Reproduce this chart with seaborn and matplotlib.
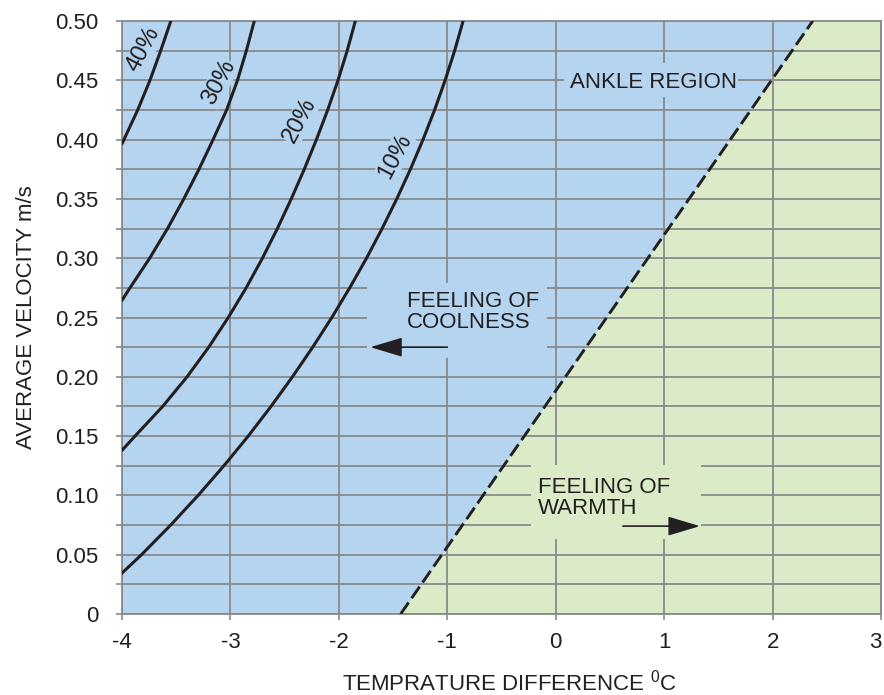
import numpy as np
import pandas as pd
import matplotlib
matplotlib.use("Agg")
import matplotlib.pyplot as plt
import seaborn as sns
from matplotlib.patches import Rectangle
from matplotlib.ticker import MultipleLocator, FixedLocator

sns.set_style("ticks")
plt.rcParams["font.family"] = ["Liberation Sans", "DejaVu Sans"]
plt.rcParams["mathtext.default"] = "regular"
plt.rcParams["axes.unicode_minus"] = False

# ====================== data ======================
# percentage-dissatisfied curves: temperature difference (°C) vs velocity (m/s)
t10 = [-4.0, -3.82, -3.551, -3.298, -3.06, -2.836, -2.626, -2.428, -2.241, -2.065,
       -1.90, -1.745, -1.601, -1.466, -1.34, -1.224, -1.117, -1.02, -0.932, -0.854]
v10 = [0.0345, 0.05, 0.075, 0.10, 0.125, 0.15, 0.175, 0.20, 0.225, 0.25,
       0.275, 0.30, 0.325, 0.35, 0.375, 0.40, 0.425, 0.45, 0.475, 0.50]
t20 = [-4.0, -3.88, -3.625, -3.40, -3.20, -3.02, -2.855, -2.705, -2.567, -2.439,
       -2.319, -2.207, -2.103, -2.008, -1.923, -1.848]
v20 = [0.138, 0.15, 0.175, 0.20, 0.225, 0.25, 0.275, 0.30, 0.325, 0.35,
       0.375, 0.40, 0.425, 0.45, 0.475, 0.50]
t30 = [-4.0, -3.93, -3.745, -3.58, -3.43, -3.29, -3.16, -3.035, -2.935, -2.853, -2.78]
v30 = [0.2645, 0.2745, 0.30, 0.325, 0.35, 0.375, 0.40, 0.425, 0.45, 0.475, 0.50]
t40 = [-4.0, -3.982, -3.855, -3.742, -3.643, -3.55]
v40 = [0.3965, 0.40, 0.425, 0.45, 0.475, 0.50]

curve_names = ["10%", "20%", "30%", "40%"]
curve_t = [t10, t20, t30, t40]
curve_v = [v10, v20, v30, v40]

# boundary between coolness and warmth (dashed line)
t_edge = [-1.43, 2.37]
v_edge = [0.0, 0.5]

x_min, x_max = -4, 3
y_min, y_max = 0, 0.5
x_ticks = [-4, -3, -2, -1, 0, 1, 2, 3]
y_ticks = [0, 0.05, 0.10, 0.15, 0.20, 0.25, 0.30, 0.35, 0.40, 0.45, 0.50]
y_tick_labels = ["0", "0.05", "0.10", "0.15", "0.20", "0.25", "0.30",
                 "0.35", "0.40", "0.45", "0.50"]

rows = []
for name, ts, vs in zip(curve_names, curve_t, curve_v):
    for t, v in zip(ts, vs):
        rows.append({"dt": t, "vel": v, "pd": name})
df = pd.DataFrame(rows)

blue = "#b4d4ef"
green = "#dbebc8"
grid_c = "#8a8a8a"
ink = "#231f20"

# ====================== plot ======================
fig = plt.figure(figsize=(8.84, 6.95), dpi=100)
ax = fig.add_axes([122 / 884, 1 - 614 / 695, (881 - 122) / 884, (614 - 21) / 695])

ax.fill_betweenx(v_edge, x_min, t_edge, color=blue, lw=0, zorder=0.1)
ax.fill_betweenx(v_edge, t_edge, x_max, color=green, lw=0, zorder=0.1)

sns.lineplot(data=df, x="dt", y="vel", hue="pd", units="pd", estimator=None,
             sort=False, palette=[ink] * 4, legend=False, lw=2.2, ax=ax, zorder=3)
ax.plot(t_edge, v_edge, color=ink, lw=2.1, dashes=(4.8, 1.8), zorder=3)

ax.set_xlim(x_min, x_max)
ax.set_ylim(y_min, y_max)
ax.set_axisbelow(True)
ax.xaxis.set_major_locator(FixedLocator(x_ticks))
ax.yaxis.set_major_locator(FixedLocator(y_ticks))
ax.yaxis.set_minor_locator(MultipleLocator(0.025))
ax.set_yticklabels(y_tick_labels)
ax.grid(which="both", color=grid_c, lw=1.3)
for s in ax.spines.values():
    s.set_color(grid_c)
    s.set_linewidth(1.3)
ax.tick_params(which="both", direction="out", length=4, width=1.2, color=grid_c,
               labelsize=16, labelcolor=ink)
ax.tick_params(axis="y", pad=13)
ax.tick_params(axis="x", pad=9)
ax.get_xticklabels()[-1].set_horizontalalignment("right")

ax.set_xlabel("TEMPRATURE DIFFERENCE $^{0}$C", fontsize=16, color=ink, va="baseline")
ax.xaxis.set_label_coords(0.51, (614 - 690) / 593)
ax.set_ylabel("AVERAGE VELOCITY m/s", fontsize=16, color=ink, labelpad=13)

# boxes that hide the grid behind the annotations
ax.add_patch(Rectangle((-1.74, 0.216), 1.66, 0.063, color=blue, lw=0, zorder=1))
ax.add_patch(Rectangle((-0.227, 0.063), 1.567, 0.0625, color=green, lw=0, zorder=1))
ax.add_patch(Rectangle((0.077, 0.436), 1.603, 0.0285, color=blue, lw=0, zorder=1))

arrow_style = dict(arrowstyle="-|>,head_length=2.0,head_width=0.6",
                   color=ink, lw=1.2, shrinkA=0, shrinkB=0)

ax.text(-1.37, 0.2544, "FEELING OF\nCOOLNESS", fontsize=16, color=ink,
        ha="left", va="center", linespacing=1.0, zorder=4)
ax.annotate("", xy=(-1.71, 0.225), xytext=(-1.0, 0.225),
            arrowprops=arrow_style, zorder=4)

ax.text(-0.162, 0.098, "FEELING OF\nWARMTH", fontsize=16, color=ink,
        ha="left", va="center", linespacing=1.0, zorder=4)
ax.annotate("", xy=(1.33, 0.0741), xytext=(0.62, 0.0741),
            arrowprops=arrow_style, zorder=4)

ax.text(0.133, 0.4485, "ANKLE REGION", fontsize=16, color=ink,
        ha="left", va="center", zorder=4)

# percentage labels along the curves (left of each curve)
label_pos = {"40%": (-3.80, 0.476, 62), "30%": (-3.11, 0.448, 62),
             "20%": (-2.36, 0.4165, 62), "10%": (-1.48, 0.386, 62)}
for name, (lx, ly, rot) in label_pos.items():
    ax.text(lx, ly, name, fontsize=17, color=ink, rotation=rot,
            ha="center", va="center", rotation_mode="anchor", zorder=2.5,
            bbox=dict(fc=blue, ec="none", pad=0.5))

plt.savefig("out.png", dpi=100)
plt.close()
